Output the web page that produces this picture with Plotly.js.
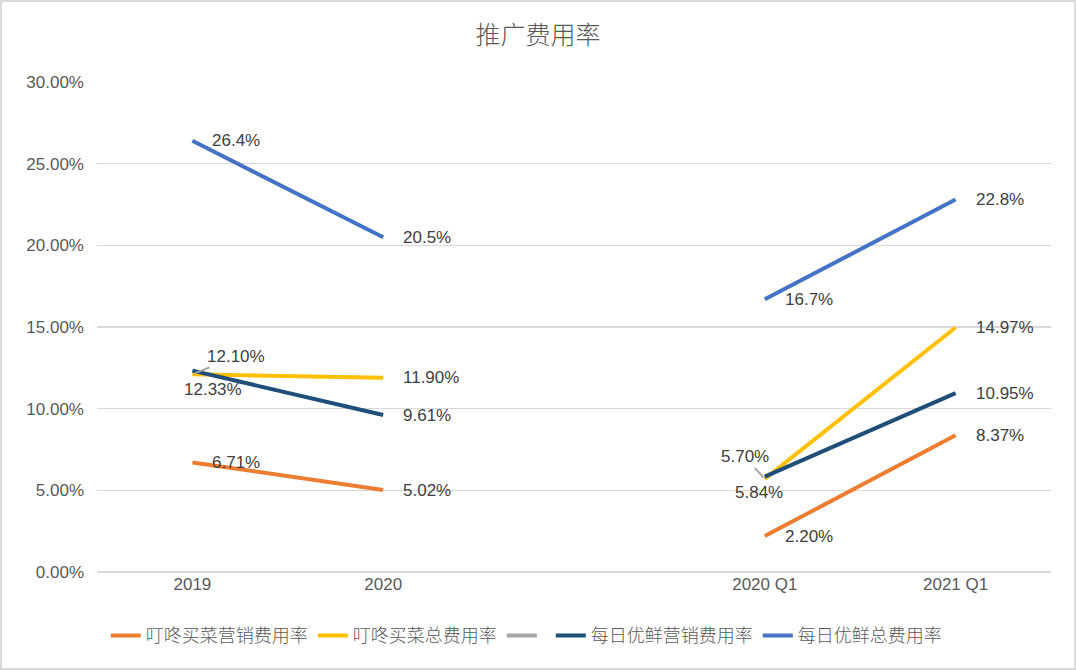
<!DOCTYPE html>
<html>
<head>
<meta charset="utf-8">
<script src="https://cdn.plot.ly/plotly-3.0.1.min.js"></script>
<style>
  html, body { margin: 0; padding: 0; background: #fff; }
  #chart { width: 1076px; height: 670px; box-sizing: border-box; border: 2px solid #d9d9d9; }
</style>
</head>
<body>
<div id="chart"></div>
<script>
// ---- data ----
const categories = ['2019', '2020', '', '2020 Q1', '2021 Q1'];
const seriesNames = ['叮咚买菜营销费用率', '叮咚买菜总费用率', ' ', '每日优鲜营销费用率', '每日优鲜总费用率'];
const dingdongMarketing = [6.71, 5.02, null, 2.20, 8.37];
const dingdongTotal = [12.10, 11.90, null, 5.70, 14.97];
const leaderSeries = [null, null, null, null, null];
const missfreshMarketing = [12.33, 9.61, null, 5.84, 10.95];
const missfreshTotal = [26.4, 20.5, null, 16.7, 22.8];
const labelDecimals = [2, 2, 2, 2, 1];

// ---- styles ----
const colors = ['#ED7D31', '#FFC000', '#A5A5A5', '#1F4E79', '#4472C4'];
const allSeries = [dingdongMarketing, dingdongTotal, leaderSeries, missfreshMarketing, missfreshTotal];
const xIdx = categories.map((c, i) => i);
const tickIdx = xIdx.filter(i => categories[i] !== '');

const traces = allSeries.map((vals, s) => ({
  type: 'scatter',
  mode: 'lines',
  x: vals.every(v => v === null) ? [null] : xIdx,
  y: vals.every(v => v === null) ? [null] : vals,
  name: seriesNames[s],
  line: { color: colors[s], width: 4 },
  connectgaps: false,
  hoverinfo: 'skip'
}));

// label placement overrides (style only): key "series:index"
const overrides = {
  '1:0': { xanchor: 'center', showarrow: true, ax: 44, ay: -18 },
  '3:0': { xanchor: 'center', xshift: 21, yshift: -19 },
  '1:3': { xanchor: 'center', showarrow: true, ax: -20, ay: -22 },
  '3:3': { xanchor: 'center', xshift: -6, yshift: -16 }
};

const annotations = [];
allSeries.forEach((vals, s) => {
  vals.forEach((v, i) => {
    if (v === null) return;
    const base = {
      x: xIdx[i], y: v, xref: 'x', yref: 'y',
      text: v.toFixed(labelDecimals[s]) + '%',
      showarrow: false, xanchor: 'left', yanchor: 'middle', xshift: 18,
      font: { family: 'Liberation Sans, Arial, sans-serif', size: 17, color: '#404040' },
      arrowhead: 0, arrowwidth: 2, arrowcolor: '#A5A5A5', standoff: 2
    };
    const o = overrides[s + ':' + i];
    if (o) {
      Object.assign(base, { xshift: 0, yshift: 0 }, o);
      if (o.showarrow) { base.axref = 'pixel'; base.ayref = 'pixel'; }
    }
    annotations.push(base);
  });
});

const layout = {
  width: 1072, height: 666,
  margin: { l: 95, r: 23, t: 80, b: 96 },
  paper_bgcolor: '#ffffff',
  plot_bgcolor: '#ffffff',
  title: {
    text: '推广费用率',
    x: 0.5, xref: 'container', xanchor: 'center',
    y: 1 - 33 / 670, yref: 'container', yanchor: 'middle',
    font: { family: 'Noto Sans CJK SC, sans-serif', size: 25, color: '#595959', weight: 300 }
  },
  xaxis: {
    range: [-0.5, categories.length - 0.5],
    tickvals: tickIdx,
    ticktext: tickIdx.map(i => categories[i]),
    showgrid: false, zeroline: false, showline: false,
    ticks: '',
    tickfont: { family: 'Liberation Sans, Arial, sans-serif', size: 17, color: '#595959' },
    fixedrange: true
  },
  yaxis: {
    range: [0, 30],
    dtick: 5, tick0: 0,
    tickformat: '.2f', ticksuffix: '%',
    showgrid: true, gridcolor: '#d9d9d9', gridwidth: 1.5,
    zeroline: true, zerolinecolor: '#d9d9d9', zerolinewidth: 1.5,
    showline: false, ticks: '',
    ticklabelstandoff: 12,
    tickfont: { family: 'Liberation Sans, Arial, sans-serif', size: 17, color: '#595959' },
    fixedrange: true
  },
  showlegend: true,
  legend: {
    orientation: 'h',
    x: 0.45, xanchor: 'center',
    y: -0.13, yanchor: 'middle',
    font: { family: 'Noto Sans CJK SC, sans-serif', size: 18, color: '#595959', weight: 300 },
    itemwidth: 30,
    tracegroupgap: 0
  },
  annotations: annotations
};

Plotly.newPlot('chart', traces, layout, { displayModeBar: false, staticPlot: true });
</script>
</body>
</html>
